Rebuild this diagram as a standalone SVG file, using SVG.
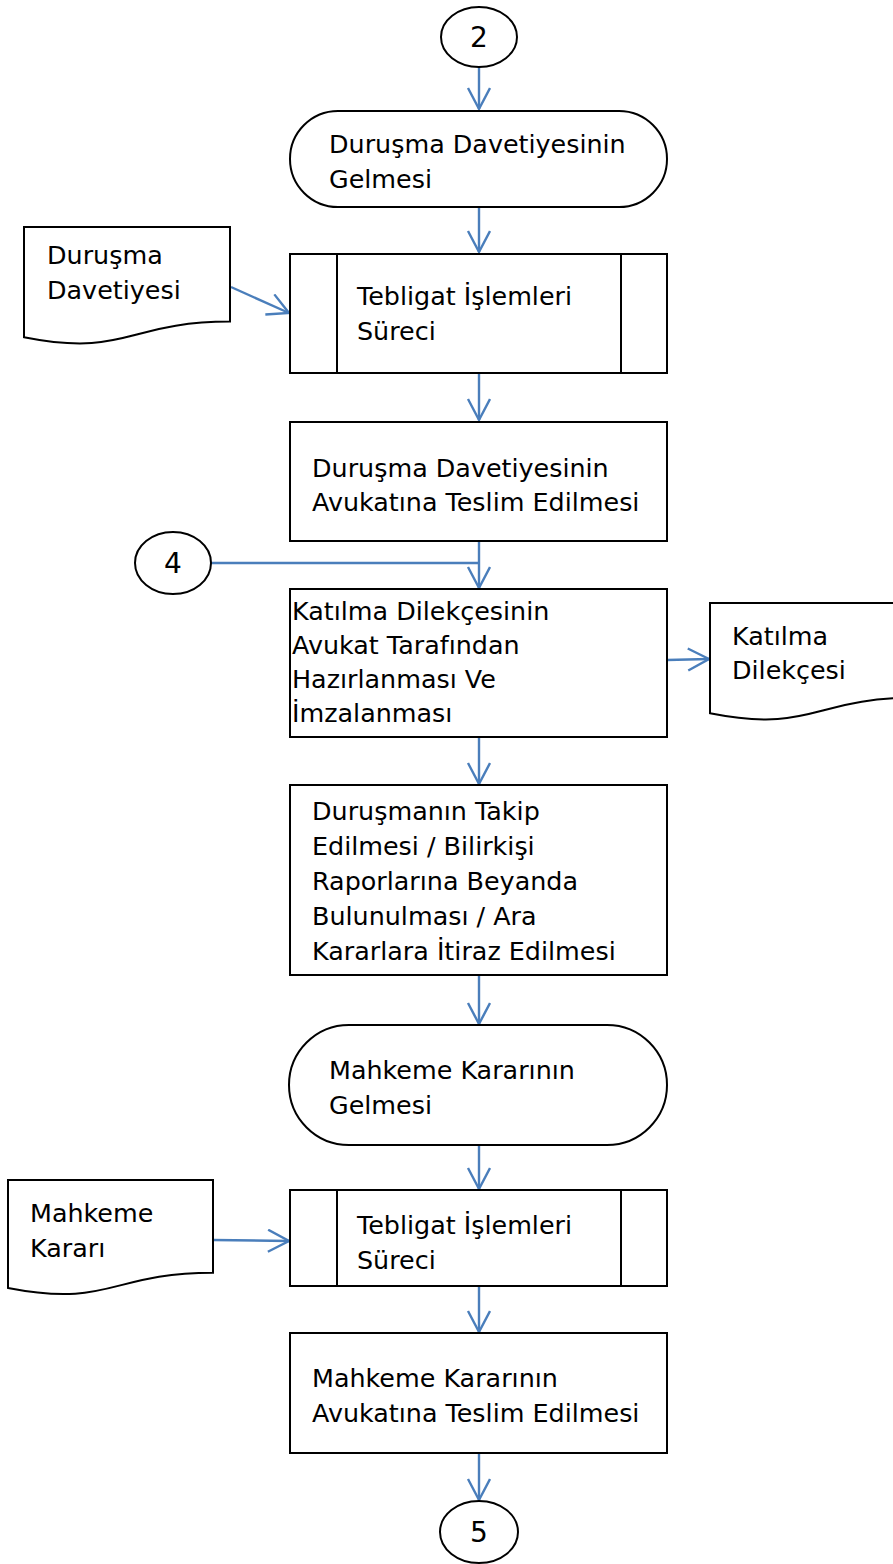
<svg xmlns="http://www.w3.org/2000/svg" width="893" height="1564" viewBox="0 0 893 1564">
<style>
.s{fill:#fff;stroke:#000;stroke-width:2}
.t{font-family:"DejaVu Sans",Verdana,sans-serif;font-size:25.4px;fill:#000}
.c{text-anchor:middle;font-size:28px}
.k{fill:none;stroke:#4A7EBB;stroke-width:2.4}
</style>
<defs>
<marker id="a" markerUnits="userSpaceOnUse" markerWidth="26" markerHeight="26" viewBox="0 0 26 26" refX="22" refY="12" orient="auto">
<path d="M1,1 L22,12 L1,23" fill="none" stroke="#4A7EBB" stroke-width="2.4"/>
</marker>
</defs>
<rect width="893" height="1564" fill="#fff"/>
<g id="connectors">
<path class="k" d="M479,67 V109" marker-end="url(#a)"/>
<path class="k" d="M479,207 V252" marker-end="url(#a)"/>
<path class="k" d="M479,373 V420" marker-end="url(#a)"/>
<path class="k" d="M479,541 V588" marker-end="url(#a)"/>
<path class="k" d="M211,563 H479"/>
<path class="k" d="M667,660 L709,659" marker-end="url(#a)"/>
<path class="k" d="M479,737 V784" marker-end="url(#a)"/>
<path class="k" d="M479,975 V1024" marker-end="url(#a)"/>
<path class="k" d="M479,1145 V1189" marker-end="url(#a)"/>
<path class="k" d="M213,1240 L289,1241" marker-end="url(#a)"/>
<path class="k" d="M479,1286 V1332" marker-end="url(#a)"/>
<path class="k" d="M479,1453 V1500" marker-end="url(#a)"/>
<path class="k" d="M231,287 L289,313" marker-end="url(#a)"/>
</g>
<g id="c2">
<ellipse class="s" cx="479" cy="37" rx="38" ry="30"/>
<text class="t c" x="479" y="47">2</text>
</g>
<g id="n1">
<rect class="s" x="290" y="111" width="377" height="96" rx="48" ry="48"/>
<text class="t" x="329" y="153">Duruşma Davetiyesinin</text>
<text class="t" x="329" y="188">Gelmesi</text>
</g>
<g id="d1">
<path class="s" d="M24,227 H230 V321.6 C127,321.6 127,357.6 24,337.2 Z"/>
<text class="t" x="47" y="264">Duruşma</text>
<text class="t" x="47" y="299">Davetiyesi</text>
</g>
<g id="n2">
<rect class="s" x="290" y="254" width="377" height="119"/>
<path class="s" d="M337,254 V373 M621,254 V373"/>
<text class="t" x="357" y="305">Tebligat İşlemleri</text>
<text class="t" x="357" y="340">Süreci</text>
</g>
<g id="n3">
<rect class="s" x="290" y="422" width="377" height="119"/>
<text class="t" x="312" y="477">Duruşma Davetiyesinin</text>
<text class="t" x="312" y="511">Avukatına Teslim Edilmesi</text>
</g>
<g id="c4">
<ellipse class="s" cx="173" cy="563" rx="38" ry="31"/>
<text class="t c" x="173" y="573">4</text>
</g>
<g id="n4">
<rect class="s" x="290" y="589" width="377" height="148"/>
<text class="t" x="292" y="620">Katılma Dilekçesinin</text>
<text class="t" x="292" y="654">Avukat Tarafından</text>
<text class="t" x="292" y="688">Hazırlanması Ve</text>
<text class="t" x="292" y="722">İmzalanması</text>
</g>
<g id="d2">
<path class="s" d="M710,603 H916 V697.6 C813,697.6 813,733.6 710,713.2 Z"/>
<text class="t" x="732" y="645">Katılma</text>
<text class="t" x="732" y="679">Dilekçesi</text>
</g>
<g id="n5">
<rect class="s" x="290" y="785" width="377" height="190"/>
<text class="t" x="312" y="820">Duruşmanın Takip</text>
<text class="t" x="312" y="855">Edilmesi / Bilirkişi</text>
<text class="t" x="312" y="890">Raporlarına Beyanda</text>
<text class="t" x="312" y="925">Bulunulması / Ara</text>
<text class="t" x="312" y="960">Kararlara İtiraz Edilmesi</text>
</g>
<g id="n6">
<rect class="s" x="289" y="1025" width="378" height="120" rx="60" ry="60"/>
<text class="t" x="329" y="1079">Mahkeme Kararının</text>
<text class="t" x="329" y="1114">Gelmesi</text>
</g>
<g id="d3">
<path class="s" d="M8,1180 H213 V1272.7 C110.5,1272.7 110.5,1308 8,1288 Z"/>
<text class="t" x="30" y="1222">Mahkeme</text>
<text class="t" x="30" y="1257">Kararı</text>
</g>
<g id="n7">
<rect class="s" x="290" y="1190" width="377" height="96"/>
<path class="s" d="M337,1190 V1286 M621,1190 V1286"/>
<text class="t" x="357" y="1234">Tebligat İşlemleri</text>
<text class="t" x="357" y="1269">Süreci</text>
</g>
<g id="n8">
<rect class="s" x="290" y="1333" width="377" height="120"/>
<text class="t" x="312" y="1387">Mahkeme Kararının</text>
<text class="t" x="312" y="1422">Avukatına Teslim Edilmesi</text>
</g>
<g id="c5">
<ellipse class="s" cx="479" cy="1532" rx="39" ry="31"/>
<text class="t c" x="479" y="1542">5</text>
</g>
</svg>
